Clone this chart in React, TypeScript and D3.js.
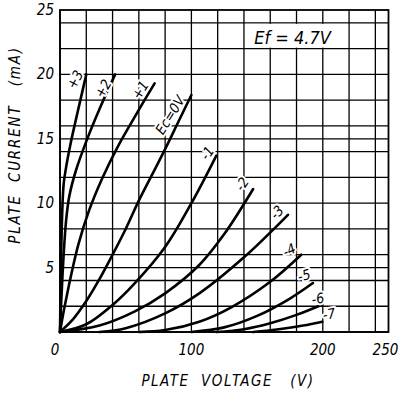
import React from 'react';
import * as d3 from 'd3';

// grid voltage curves, [plate volts, plate mA]
const ecPlus3 = [[0, 0], [0.4, 3], [0.9, 6], [1.6, 9], [2.8, 11.5], [5, 13], [8, 14.6], [11, 16], [15.5, 18], [20, 20]];
const ecPlus2 = [[0, 0], [1, 2.5], [2.5, 5.5], [4.5, 8.5], [7, 10.5], [12, 12.5], [20, 14.8], [30, 17.3], [42, 20]];
const ecPlus1 = [[0, 0], [3, 1.7], [8, 4.2], [14, 6.8], [22, 9.4], [32, 11.9], [44, 14.4], [58, 16.9], [72, 19.3]];
const ecZero = [[0, 0], [10, 1.0], [20, 2.4], [30, 4.1], [40, 6.0], [50, 8.0], [60, 10.2], [70, 12.2], [80, 14.2], [90, 16.3], [100, 18.4]];
const ecMinus1 = [[0, 0], [20, 0.6], [40, 2.1], [57, 3.8], [80, 6.6], [100, 10], [119, 13.7]];
const ecMinus2 = [[0, 0], [30, 0.5], [57, 1.6], [80, 3.0], [106, 5.2], [125, 7.6], [147, 11.1]];
const ecMinus3 = [[30, 0], [50, 0.3], [80, 1.45], [106, 3.0], [140, 5.8], [173.5, 9.1]];
const ecMinus4 = [[60, 0], [80, 0.15], [106, 0.8], [130, 1.9], [160, 3.9], [183.6, 6]];
const ecMinus5 = [[100, 0], [125, 0.36], [150, 1.25], [175, 2.6], [192.5, 3.8]];
const ecMinus6 = [[119, 0], [140, 0.22], [160, 0.68], [180, 1.33], [198.8, 2.1]];
const ecMinus7 = [[147, 0], [165, 0.2], [185, 0.5], [199.6, 0.8]];

// curve labels: text, anchor volts, anchor mA, rotation
const curveLabels = ['+3', '+2', '+1', 'Ec=0V', '-1', '-2', '-3', '-4', '-5', '-6', '-7'];
const labelVolts = [11.4, 32.7, 61, 83.7, 111.9, 138.5, 165, 174.3, 185.7, 196.3, 204.7];
const labelAmps = [19.6, 18.9, 18.8, 16.85, 13.9, 11.5, 9.3, 6.37, 4.4, 2.6, 1.4];
const labelAngles = [-62, -60, -58, -58, -55, -55, -45, -25, -15, -10, -10];

const voltGrid = [0, 20, 40, 60, 80, 100, 120, 140, 160, 180, 200, 220, 240];
const ampGrid = [0, 2, 4, 5, 6, 8, 10, 12, 14, 15, 16, 18, 20, 22, 24];
const voltTicks = [0, 100, 200, 250];
const ampTicks = [5, 10, 15, 20, 25];

const font = '"DejaVu Sans Condensed", "Liberation Sans Narrow", "DejaVu Sans", sans-serif';

export default function App() {
  const width = 399;
  const height = 393;
  const x = d3.scaleLinear().domain([0, 250]).range([60, 388.5]);
  const y = d3.scaleLinear().domain([0, 25]).range([332, 10]);

  const line = d3.line<number[]>()
    .x((d) => x(d[0]))
    .y((d) => y(d[1]))
    .curve(d3.curveCatmullRom.alpha(0.5));

  const curves = [ecPlus3, ecPlus2, ecPlus1, ecZero, ecMinus1, ecMinus2, ecMinus3, ecMinus4, ecMinus5, ecMinus6, ecMinus7];

  const halo = { paintOrder: 'stroke' as const, stroke: '#fff', strokeWidth: 4, strokeLinejoin: 'round' as const };

  return (
    <svg width={width} height={height} style={{ position: 'absolute', left: 0, top: 0, background: '#fff' }}>
      <rect width={width} height={height} fill="#fff" />
      <g stroke="#000" strokeWidth={1.3}>
        {voltGrid.map((v) => (
          <line key={`v${v}`} x1={x(v)} x2={x(v)} y1={y(0)} y2={y(25)} />
        ))}
        {ampGrid.map((a) => (
          <line key={`a${a}`} x1={x(0)} x2={x(250)} y1={y(a)} y2={y(a)} />
        ))}
      </g>
      <rect x={x(140) + 1} y={y(24) + 1} width={x(220) - x(140) - 2} height={y(22) - y(24) - 2} fill="#fff" />
      <rect x={x(0)} y={y(25)} width={x(250) - x(0)} height={y(0) - y(25)} fill="none" stroke="#000" strokeWidth={1.8} />
      <g fill="none" stroke="#000" strokeWidth={2.6} strokeLinecap="round">
        {curves.map((c, i) => <path key={i} d={line(c) || ''} />)}
      </g>
      <g fontFamily={font} fontStyle="italic" fontSize={14} textAnchor="middle" dominantBaseline="central">
        {curveLabels.map((t, i) => (
          <text
            key={t}
            transform={`translate(${x(labelVolts[i])},${y(labelAmps[i])}) rotate(${labelAngles[i]})`}
            style={halo}
          >
            {t}
          </text>
        ))}
      </g>
      <text x={x(177)} y={y(22.9)} fontFamily={font} fontStyle="italic" fontSize={18} textAnchor="middle" dominantBaseline="central">Ef = 4.7V</text>
      <g fontFamily={font} fontStyle="italic" fontSize={15}>
        {ampTicks.map((a) => (
          <text key={a} x={x(0) - 6} y={y(a)} textAnchor="end" dominantBaseline="central">{a}</text>
        ))}
        {voltTicks.map((v) => (
          <text key={v} x={x(v) - (v === 0 ? 5 : v === 250 ? 3 : 0)} y={y(0) + 18} textAnchor="middle" dominantBaseline="central">{v}</text>
        ))}
      </g>
      <text
        transform={`translate(20,${(y(0) + y(25)) / 2 - 26}) rotate(-90)`}
        textAnchor="middle"
        fontFamily={font}
        fontStyle="italic"
        fontSize={15}
        letterSpacing={1.8}
        style={{ whiteSpace: 'pre' }}
      >
        {'PLATE  CURRENT   (mA)'}
      </text>
      <text
        x={228}
        y={386}
        textAnchor="middle"
        fontFamily={font}
        fontStyle="italic"
        fontSize={15}
        letterSpacing={1.5}
        style={{ whiteSpace: 'pre' }}
      >
        {'PLATE  VOLTAGE   (V)'}
      </text>
    </svg>
  );
}
